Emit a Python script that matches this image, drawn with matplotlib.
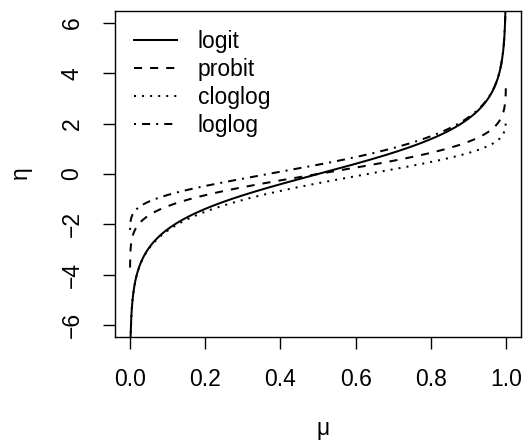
import numpy as np
import matplotlib
matplotlib.use("Agg")
import matplotlib.pyplot as plt
from statistics import NormalDist

plt.rcParams['font.family'] = ['Liberation Sans', 'DejaVu Sans']

# data: link functions evaluated over mu grid
mu = np.linspace(0.0001, 0.9999, 2000)
nd = NormalDist()
links = {
    "logit": np.log(mu / (1 - mu)),
    "probit": np.array([nd.inv_cdf(m) for m in mu]),
    "cloglog": np.log(-np.log(1 - mu)),
    "loglog": -np.log(-np.log(mu)),
}
series_names = ["logit", "probit", "cloglog", "loglog"]
x_ticks = [0.0, 0.2, 0.4, 0.6, 0.8, 1.0]
x_ticklabels = ["0.0", "0.2", "0.4", "0.6", "0.8", "1.0"]
y_ticks = [-6, -4, -2, 0, 2, 4, 6]

styles = {
    "logit": "-",
    "probit": (0, (4, 4)),
    "cloglog": (0, (1, 3)),
    "loglog": (0, (1, 3, 4, 3)),
}

W, H = 525, 440
fig = plt.figure(figsize=(W / 100, H / 100), dpi=100)
L, R, T, B = 115, 521, 11, 337
ax = fig.add_axes([L / W, (H - B) / H, (R - L) / W, (B - T) / H])

for name in series_names:
    ax.plot(mu, links[name], color="black", lw=1.45, linestyle=styles[name],
            dash_capstyle="butt", label=name)

ax.set_xlim(-0.04, 1.04)
ax.set_ylim(-6.48, 6.48)
ax.set_xticks(x_ticks)
ax.set_xticklabels(x_ticklabels)
ax.set_yticks(y_ticks)
ax.set_yticklabels([str(v).replace("-", "\u2212") for v in y_ticks], rotation=90, va="center")
for s in ax.spines.values():
    s.set_linewidth(1.0)
ax.tick_params(axis="both", direction="out", length=8.6, width=1.0, labelsize=16.5, pad=14)

fig.text(323 / W, 1 - 428 / H, "\u03bc", fontsize=16.5, ha="center", va="center")
fig.text(20 / W, 1 - 173 / H, "\u03b7", fontsize=16.5, ha="center", va="center", rotation=90)

leg = ax.legend(loc="upper left", frameon=False, fontsize=16.5, handlelength=1.9,
                handletextpad=0.9, labelspacing=0.22, borderaxespad=0.42,
                bbox_to_anchor=(0.0, 1.0))

fig.savefig("out.png", dpi=100)
